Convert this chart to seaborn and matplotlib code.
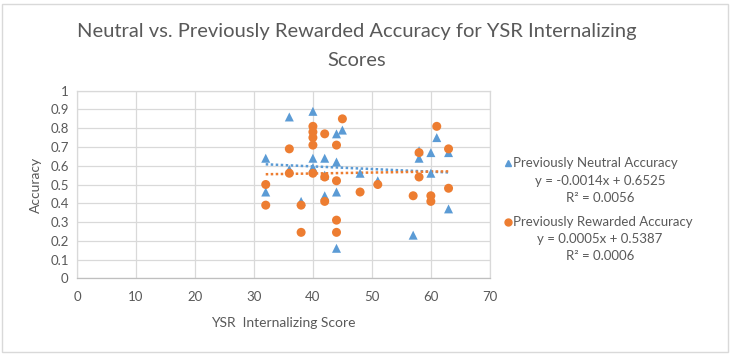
import matplotlib
matplotlib.use('Agg')
import matplotlib.pyplot as plt
from matplotlib.lines import Line2D
from matplotlib.patches import Rectangle
import numpy as np
import pandas as pd
import seaborn as sns

# previously neutral accuracy (triangles)
neutral_x = [32, 32, 36, 36, 38, 40, 40, 40, 42, 42, 42, 44, 45, 44, 44, 44,
             48, 51, 57, 58, 58, 60, 60, 61, 63, 63]
neutral_y = [0.64, 0.46, 0.86, 0.58, 0.41, 0.89, 0.64, 0.59, 0.64, 0.55, 0.44, 0.77, 0.79, 0.62, 0.46, 0.16,
             0.56, 0.52, 0.23, 0.68, 0.64, 0.67, 0.56, 0.75, 0.67, 0.37]

# previously rewarded accuracy (circles)
rewarded_x = [32, 32, 36, 36, 38, 38, 40, 40, 40, 40, 40, 42, 42, 42, 44, 44, 44, 44, 45,
              48, 51, 57, 58, 58, 60, 60, 61, 63, 63]
rewarded_y = [0.50, 0.39, 0.69, 0.56, 0.39, 0.245, 0.81, 0.78, 0.75, 0.71, 0.56, 0.77, 0.54, 0.41,
              0.71, 0.52, 0.31, 0.245, 0.85, 0.46, 0.50, 0.44, 0.67, 0.54, 0.44, 0.41, 0.81, 0.69, 0.48]

series_names = ['Previously Neutral Accuracy', 'Previously Rewarded Accuracy']
trend_slope = [-0.0014, 0.0005]
trend_intercept = [0.6525, 0.5387]
trend_r2 = ['0.0056', '0.0006']
colors = ['#5B9BD5', '#ED7D31']
markers = ['^', 'o']

df = pd.concat([
    pd.DataFrame({'x': neutral_x, 'y': neutral_y, 'series': series_names[0]}),
    pd.DataFrame({'x': rewarded_x, 'y': rewarded_y, 'series': series_names[1]}),
])

sns.set_style('white')
plt.rcParams['font.family'] = ['Lato', 'DejaVu Sans']
text_color = '#595959'

fig = plt.figure(figsize=(7.3, 3.54), dpi=100)
ax = fig.add_axes([0.1055, 0.2138, 0.5655, 0.530])

sns.scatterplot(data=df, x='x', y='y', hue='series', style='series',
                palette=dict(zip(series_names, colors)),
                markers=dict(zip(series_names, markers)),
                s=42, linewidth=0, ax=ax, legend=False, zorder=3)

# linear trendlines (dotted), from min to max x of each series
for xs, m, b, c in zip([neutral_x, rewarded_x], trend_slope, trend_intercept, colors):
    xx = np.array([min(xs), max(xs)])
    ax.plot(xx, m * xx + b, linestyle=(0, (1, 1)), color=c, lw=1.8, zorder=2)

ax.set_xlim(0, 70)
ax.set_ylim(0, 1)
ax.set_xticks(range(0, 71, 10))
ax.set_yticks(np.round(np.arange(0, 1.01, 0.1), 1))
ax.set_yticklabels(['0', '0.1', '0.2', '0.3', '0.4', '0.5', '0.6', '0.7', '0.8', '0.9', '1'])
ax.grid(True, color='#d9d9d9', lw=0.9)
ax.set_axisbelow(True)
for sp in ax.spines.values():
    sp.set_color('#d9d9d9')
    sp.set_linewidth(0.9)
ax.spines['bottom'].set_color('#bfbfbf')
ax.tick_params(axis='both', length=0, labelsize=9.5, colors=text_color)
ax.tick_params(axis='x', pad=9)
ax.tick_params(axis='y', pad=6)
ax.set_xlabel('YSR  Internalizing Score', fontsize=10, color=text_color, labelpad=10)
ax.set_ylabel('Accuracy', fontsize=10, color=text_color, labelpad=6)

fig.text(0.489, 1 - 31 / 354, 'Neutral vs. Previously Rewarded Accuracy for YSR Internalizing',
         ha='center', va='center', fontsize=14.5, color=text_color)
fig.text(0.489, 1 - 60 / 354, 'Scores',
         ha='center', va='center', fontsize=14.5, color=text_color)

# legend with trendline equations
rows = [(163, 181, 198), (222, 239, 256)]
for (y1, y2, y3), name, m, b, r2, c, mk in zip(rows, series_names, trend_slope, trend_intercept,
                                               trend_r2, colors, markers):
    fig.add_artist(Line2D([508 / 730], [1 - y1 / 354], marker=mk, color=c, markersize=5,
                          linestyle='none', transform=fig.transFigure))
    fig.text(513 / 730, 1 - y1 / 354, name, ha='left', va='center', fontsize=9.5, color=text_color)
    sign = '-' if m < 0 else ''
    fig.text(600 / 730, 1 - y2 / 354, f'y = {sign}{abs(m):.4f}x + {b:.4f}',
             ha='center', va='center', fontsize=9.5, color=text_color)
    fig.text(600 / 730, 1 - y3 / 354, f'R² = {r2}',
             ha='center', va='center', fontsize=9.5, color=text_color)

fig.add_artist(Rectangle((0.003, 0.005), 0.994, 0.985, transform=fig.transFigure,
                         fill=False, edgecolor='#d9d9d9', lw=1))

fig.savefig('out.png', dpi=100)
